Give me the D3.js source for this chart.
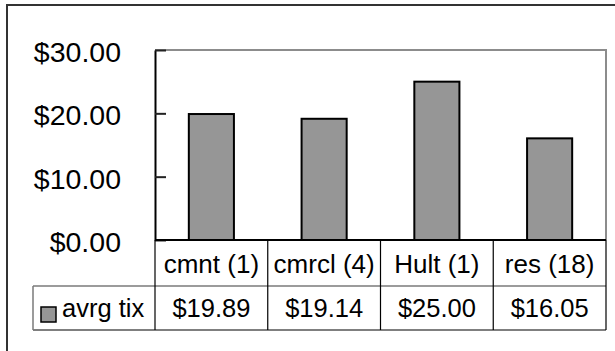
<!DOCTYPE html>
<html><head><meta charset="utf-8">
<script src="https://cdn.jsdelivr.net/npm/d3@7/dist/d3.min.js"></script>
<style>html,body{margin:0;padding:0;background:#fff;overflow:hidden}</style>
</head><body>
<script>
const categories = ["cmnt (1)", "cmrcl (4)", "Hult (1)", "res (18)"];
const values = [19.89, 19.14, 25.00, 16.05];
const seriesName = "avrg tix";
const yTicks = [0, 10, 20, 30];

const W = 615, H = 351;
const svg = d3.select("body").append("svg").attr("width", W).attr("height", H);
const font = "'Liberation Sans', Arial, sans-serif";

// outer chart border
svg.append("rect").attr("x", 7).attr("y", 5).attr("width", 620).attr("height", 360)
  .attr("fill", "none").attr("stroke", "#333").attr("stroke-width", 2);

const plot = {left: 155, right: 606, top: 50, bottom: 240};
const x = d3.scaleBand().domain(categories).range([plot.left, plot.right])
  .paddingInner(0.6).paddingOuter(0.3);
const y = d3.scaleLinear().domain([0, 30]).range([plot.bottom, plot.top]);

// plot area border (top/right gray)
svg.append("path")
  .attr("d", `M${plot.left},${plot.top}H${plot.right}V${plot.bottom}`)
  .attr("fill", "none").attr("stroke", "#8c8c8c").attr("stroke-width", 2);

// bars
svg.selectAll("rect.bar").data(values).enter().append("rect")
  .attr("class", "bar")
  .attr("x", (d, i) => x(categories[i]))
  .attr("width", x.bandwidth())
  .attr("y", d => y(d))
  .attr("height", d => y(0) - y(d))
  .attr("fill", "#969696").attr("stroke", "#000").attr("stroke-width", 2);

// y axis
const yAxis = d3.axisLeft(y).tickValues(yTicks).tickSizeInner(-11).tickSizeOuter(0)
  .tickFormat(d => "$" + d3.format(".2f")(d));
const ga = svg.append("g").attr("transform", `translate(${plot.left},0)`).call(yAxis);
ga.select(".domain").attr("stroke", "#000").attr("stroke-width", 2);
ga.selectAll(".tick line").attr("stroke", "#222").attr("stroke-width", 2);
ga.selectAll(".tick text").attr("font-family", font).attr("font-size", 28.5)
  .attr("fill", "#000").attr("dy", "0.4em").attr("x", -34);

// data table
const rowTop = plot.bottom, row1 = 286, row2 = 330, legendLeft = 33;
const edges = categories.map(c => x(c) - x.step() * x.paddingInner() / 2);
edges[0] = plot.left;
edges.push(plot.right);

svg.append("line").attr("x1", plot.left).attr("x2", plot.right).attr("y1", rowTop).attr("y2", rowTop)
  .attr("stroke", "#000").attr("stroke-width", 2);
svg.append("line").attr("x1", legendLeft).attr("x2", plot.right).attr("y1", row1).attr("y2", row1)
  .attr("stroke", "#7a7a7a").attr("stroke-width", 1.5);
svg.append("line").attr("x1", legendLeft).attr("x2", plot.right).attr("y1", row2).attr("y2", row2)
  .attr("stroke", "#555").attr("stroke-width", 1.5);
edges.forEach(e => {
  svg.append("line").attr("x1", e).attr("x2", e).attr("y1", rowTop).attr("y2", row2)
    .attr("stroke", "#000").attr("stroke-width", 1.2);
});
svg.append("line").attr("x1", legendLeft).attr("x2", legendLeft).attr("y1", row1).attr("y2", row2)
  .attr("stroke", "#7a7a7a").attr("stroke-width", 1.5);

// category labels
svg.selectAll("text.cat").data(categories).enter().append("text")
  .attr("class", "cat")
  .attr("x", d => x(d) + x.bandwidth() / 2)
  .attr("y", (rowTop + row1) / 2)
  .attr("dy", "0.37em")
  .attr("text-anchor", "middle")
  .attr("font-family", font).attr("font-size", 26).attr("fill", "#000")
  .text(d => d);

// values row
svg.selectAll("text.val").data(values).enter().append("text")
  .attr("class", "val")
  .attr("x", (d, i) => x(categories[i]) + x.bandwidth() / 2)
  .attr("y", (row1 + row2) / 2)
  .attr("dy", "0.37em")
  .attr("text-anchor", "middle")
  .attr("font-family", font).attr("font-size", 25.5).attr("fill", "#000")
  .text(d => "$" + d3.format(".2f")(d));

// legend key
svg.append("rect").attr("x", 41).attr("y", 307).attr("width", 15).attr("height", 15)
  .attr("fill", "#969696").attr("stroke", "#000").attr("stroke-width", 1.5);
svg.append("text").attr("x", 62).attr("y", (row1 + row2) / 2).attr("dy", "0.37em")
  .attr("font-family", font).attr("font-size", 25.5).attr("fill", "#000")
  .text(seriesName);
</script>
</body></html>
